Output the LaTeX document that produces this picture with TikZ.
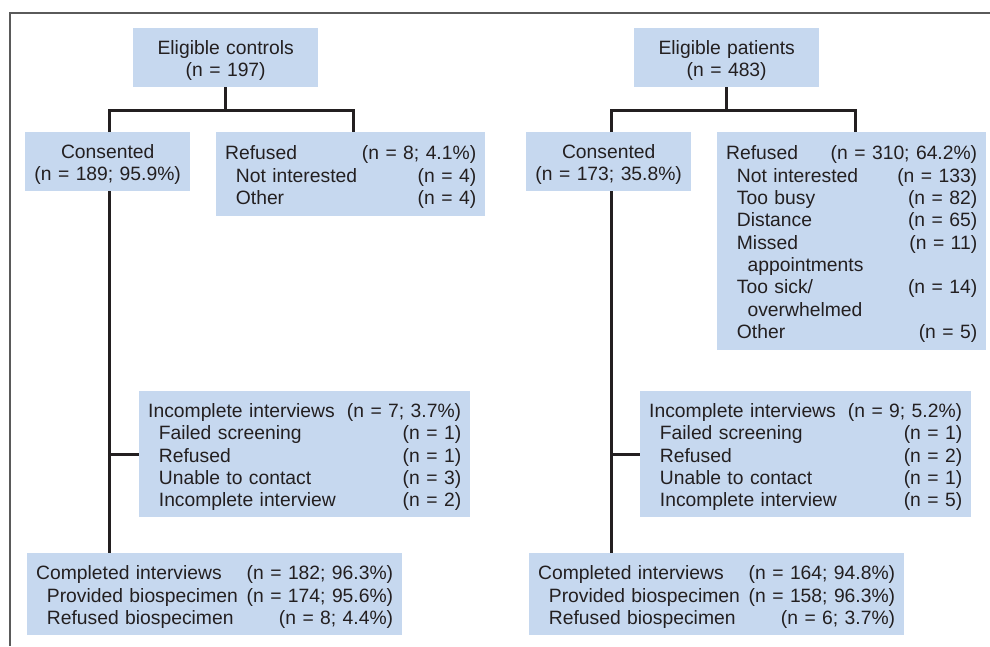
\documentclass[tikz,border=0pt]{standalone}
\usepackage{fontspec}
\setmainfont{Liberation Sans}
\definecolor{boxblue}{RGB}{198,216,239}
\definecolor{ink}{RGB}{35,31,32}
\definecolor{framegray}{RGB}{90,90,90}
\newcommand{\ind}{\hspace*{10.7pt}}
\newcommand{\indd}{\hspace*{21.4pt}}
\begin{document}
\begin{tikzpicture}[x=1pt,y=-1pt,
  fbox/.style={fill=boxblue, inner sep=0pt, anchor=north west},
  txt/.style={text=ink, inner sep=0pt, yshift=-3pt, font=\fontsize{19.3}{22.3}\selectfont},
  ctxt/.style={txt, align=center},
  ltxt/.style={txt, align=left},
  conn/.style={draw=ink, line width=3pt},
  framel/.style={draw=framegray, line width=2pt}]
\useasboundingbox (0,0) rectangle (990,646);
\draw[framel] (990,12.5) -- (10,12.5) -- (10,646);

% left column boxes
\node[fbox, minimum width=185pt, minimum height=59pt] (ec) at (133,28) {};
\node[fbox, minimum width=165pt, minimum height=59pt] (lc) at (25,132) {};
\node[fbox, minimum width=269pt, minimum height=84pt] (lr) at (216,132) {};
\node[fbox, minimum width=331pt, minimum height=126pt] (li) at (139,391) {};
\node[fbox, minimum width=375pt, minimum height=82pt] (lcomp) at (27,553) {};
% right column boxes
\node[fbox, minimum width=185pt, minimum height=59pt] (ep) at (634,28) {};
\node[fbox, minimum width=165pt, minimum height=59pt] (rc) at (526,132) {};
\node[fbox, minimum width=269pt, minimum height=218pt] (rr) at (717,132) {};
\node[fbox, minimum width=331pt, minimum height=126pt] (ri) at (640,391) {};
\node[fbox, minimum width=375pt, minimum height=82pt] (rcomp) at (529,553) {};

% left column texts
\node[ctxt, text width=185pt] (ect) at (ec.center) {Eligible controls\\(n = 197)};
\node[ctxt, text width=165pt] (lct) at (lc.center) {Consented\\(n = 189; 95.9\%)};
\node[ltxt, text width=251pt] (lrt) at (lr.center)
  {Refused\hfill(n = 8; 4.1\%)\\
   \ind Not interested\hfill(n = 4)\\
   \ind Other\hfill(n = 4)};
\node[ltxt, text width=313pt] (lit) at (li.center)
  {Incomplete interviews\hfill(n = 7; 3.7\%)\\
   \ind Failed screening\hfill(n = 1)\\
   \ind Refused\hfill(n = 1)\\
   \ind Unable to contact\hfill(n = 3)\\
   \ind Incomplete interview\hfill(n = 2)};
\node[ltxt, text width=357pt] (lcompt) at (lcomp.center)
  {Completed interviews\hfill(n = 182; 96.3\%)\\
   \ind Provided biospecimen\hfill(n = 174; 95.6\%)\\
   \ind Refused biospecimen\hfill(n = 8; 4.4\%)};

% right column texts
\node[ctxt, text width=185pt] (ept) at (ep.center) {Eligible patients\\(n = 483)};
\node[ctxt, text width=165pt] (rct) at (rc.center) {Consented\\(n = 173; 35.8\%)};
\node[ltxt, text width=251pt] (rrt) at (rr.center)
  {Refused\hfill(n = 310; 64.2\%)\\
   \ind Not interested\hfill(n = 133)\\
   \ind Too busy\hfill(n = 82)\\
   \ind Distance\hfill(n = 65)\\
   \ind Missed\hfill(n = 11)\\
   \indd appointments\\
   \ind Too sick/\hfill(n = 14)\\
   \indd overwhelmed\\
   \ind Other\hfill(n = 5)};
\node[ltxt, text width=313pt] (rit) at (ri.center)
  {Incomplete interviews\hfill(n = 9; 5.2\%)\\
   \ind Failed screening\hfill(n = 1)\\
   \ind Refused\hfill(n = 2)\\
   \ind Unable to contact\hfill(n = 1)\\
   \ind Incomplete interview\hfill(n = 5)};
\node[ltxt, text width=357pt] (rcompt) at (rcomp.center)
  {Completed interviews\hfill(n = 164; 94.8\%)\\
   \ind Provided biospecimen\hfill(n = 158; 96.3\%)\\
   \ind Refused biospecimen\hfill(n = 6; 3.7\%)};

% connectors left
\coordinate (ljoin) at ([yshift=-23pt]ec.south);
\draw[conn] (ec.south) -- (ljoin);
\draw[conn] ([xshift=1.5pt]lc.north) |- ([xshift=2.5pt]lr.north |- ljoin) -- ([xshift=2.5pt]lr.north);
\draw[conn] ([xshift=1.5pt]lc.south) -- ([xshift=1.5pt]lc.south |- lcomp.north);
\draw[conn] ([xshift=1.5pt]lc.south |- li.west) -- (li.west);

% connectors right
\coordinate (rjoin) at ([yshift=-23pt]ep.south);
\draw[conn] (ep.south) -- (rjoin);
\draw[conn] ([xshift=2.5pt]rc.north) |- ([xshift=3.5pt]rr.north |- rjoin) -- ([xshift=3.5pt]rr.north);
\draw[conn] ([xshift=2.5pt]rc.south) -- ([xshift=2.5pt]rc.south |- rcomp.north);
\draw[conn] ([xshift=2.5pt]rc.south |- ri.west) -- (ri.west);
\end{tikzpicture}
\end{document}
